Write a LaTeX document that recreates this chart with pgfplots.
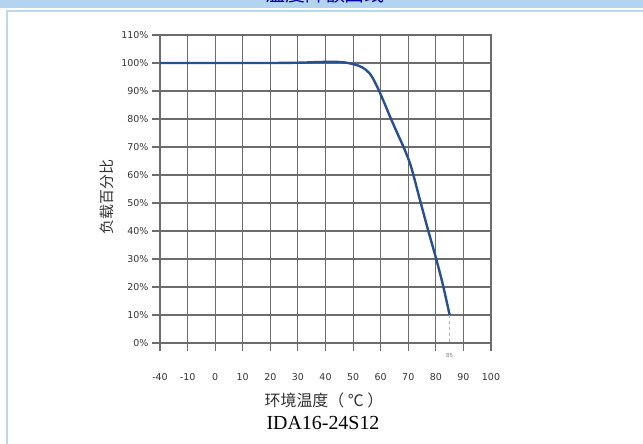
\documentclass[border=0pt]{standalone}
\usepackage{pgfplots}
\pgfplotsset{compat=1.18}
\usepackage{fontspec}
\setmainfont{Liberation Serif}
\newfontfamily\cjk{Noto Sans CJK SC}
\newfontfamily\dejavu{DejaVu Sans}
\definecolor{hdr}{HTML}{B4D3EE}
\definecolor{frm}{HTML}{BBD6EE}
\definecolor{gridc}{HTML}{6C6C6C}
\definecolor{curve}{HTML}{28508E}
\definecolor{lbl}{HTML}{333333}
\begin{document}
\begin{tikzpicture}
% page: 643 x 444 bp, y measured from the bottom
\path[use as bounding box] (0,0) rectangle (643bp,444bp);
\fill[hdr] (0,436bp) rectangle (643bp,444bp);
\begin{scope}
\clip (0,436bp) rectangle (643bp,444bp);
\node[anchor=base, text=blue!70!black, font=\cjk\fontsize{20}{20}\selectfont] at (325bp,442bp) {温度降额曲线};
\end{scope}
\fill[frm] (6bp,432bp) rectangle (643bp,434bp);
\fill[frm] (6bp,0) rectangle (8bp,434bp);

\begin{axis}[
    at={(160bp,101bp)}, anchor=south west,
    scale only axis, width=331bp, height=308bp,
    xmin=0, xmax=12, ymin=0, ymax=110,
    xtick={0,...,12},
    xticklabels={-40,-10,0,10,20,30,40,50,60,70,80,90,100},
    ytick={0,10,...,110},
    yticklabels={0\%,10\%,20\%,30\%,40\%,50\%,60\%,70\%,80\%,90\%,100\%,110\%},
    grid=major,
    major grid style={gridc, line width=1.1bp},
    axis line style={gridc, line width=1.1bp},
    tick style={gridc, line width=1.1bp},
    tick align=outside,
    major tick length=8bp,
    xtick pos=bottom, ytick pos=left,
    ticklabel style={font=\dejavu\fontsize{9.5}{10}\selectfont, text=lbl},
    xticklabel style={yshift=-19bp},
    x filter/.expression={x<-10 ? (x+40)/30 : x/10+2},
    clip=false,
]
\addplot[gray!60, dashed, line width=1bp] coordinates {(85,10) (85,0)};
\addplot[curve, line width=2.4bp, smooth, tension=0.55] coordinates {
(-40,100) (-10,100) (0,100) (10,100) (20,100) (30,100.1) (40,100.4)
(46,100.3) (50,99.6) (53,98.6) (56,96.3) (58.5,92) (61,86.5) (63.5,80.6)
(66,75) (68.5,69.5) (71,63) (74,52) (77,41) (80,30.5) (82.5,21) (85,10)
};
\node[font=\dejavu\fontsize{5.5}{6}\selectfont, text=gray] at (axis cs:10.5,0) [yshift=-13bp] {85};
\end{axis}

\node[rotate=90, font=\cjk\fontsize{15}{15}\selectfont, text=lbl] at (107bp,247bp) {负载百分比};
\node[font=\cjk\fontsize{16}{16}\selectfont, text=lbl] at (324bp,44bp) {环境温度（ ℃ ）};
\node[font=\fontsize{20}{20}\selectfont] at (323bp,21bp) {IDA16-24S12};
\end{tikzpicture}
\end{document}
